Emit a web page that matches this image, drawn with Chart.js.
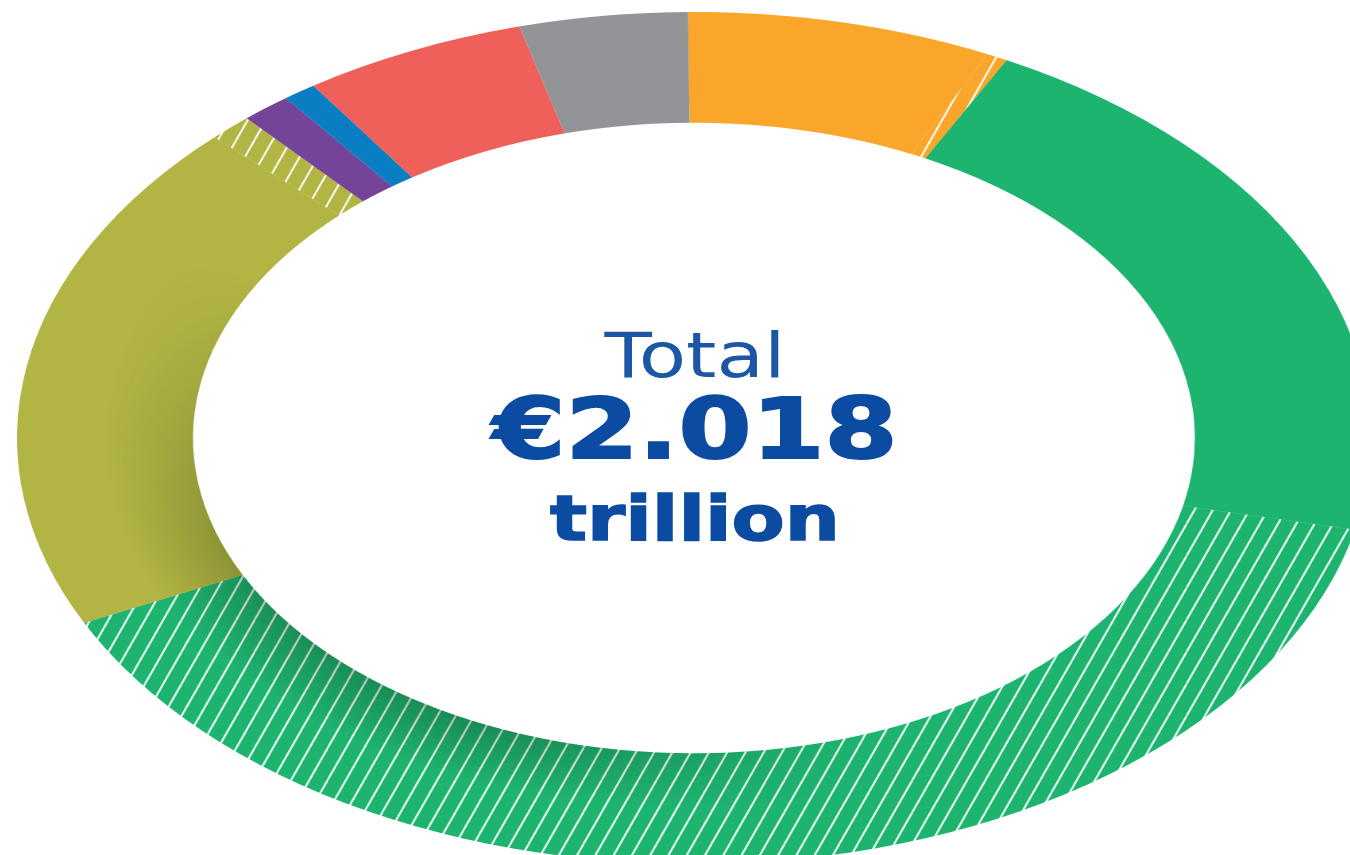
<!DOCTYPE html>
<html>
<head>
<meta charset="utf-8">
<title>Total €2.018 trillion</title>
<script src="https://cdn.jsdelivr.net/npm/chart.js@4.4.1/dist/chart.umd.min.js"></script>
<style>
    html, body {
        margin: 0;
        padding: 0;
        background: #fff;
        width: 1350px;
        height: 855px;
        overflow: hidden;
    }
    /* the ring is drawn as a circle and stretched into the wide ellipse */
    #ring {
        position: absolute;
        left: 17px;
        top: 12px;
        transform-origin: 0 0;
        transform: scaleX(1.589);
    }
    #ring canvas {
        display: block;
    }
    .centre-line {
        position: absolute;
        left: 0;
        width: 1390px;
        text-align: center;
        font-family: "DejaVu Sans", sans-serif;
        line-height: 1;
        white-space: nowrap;
        transform-origin: 695px 0;
        transform: scaleX(1.25);
    }
    #lineTotal { top: 325px; font-size: 62px; color: #1c56a5; }
    #lineAmount { top: 387px; font-size: 84px; font-weight: bold; color: #0c4ba2; -webkit-text-stroke: 2px #0c4ba2; }
    #lineUnit { top: 488px; font-size: 62px; font-weight: bold; color: #0c4ba2; -webkit-text-stroke: 1.5px #0c4ba2; }
</style>
</head>
<body>
<div id="ring"><canvas id="budgetChart" width="852" height="852"></canvas></div>
<div class="centre-line" id="lineTotal"></div>
<div class="centre-line" id="lineAmount"></div>
<div class="centre-line" id="lineUnit"></div>

<script>
// Chart data (EUR billion)
const categories = [
    'Single market, innovation and digital',
    'Single market, innovation and digital (NextGenerationEU)',
    'Cohesion, resilience and values',
    'Cohesion, resilience and values (NextGenerationEU)',
    'Natural resources and environment',
    'Natural resources and environment (NextGenerationEU)',
    'Migration and border management',
    'Security and defence',
    'Neighbourhood and the world',
    'European public administration'
];
const values = [147, 10, 420, 795, 396, 21, 24, 16, 108, 81];
const hatched = [false, true, false, true, false, true, false, false, false, false];
const colours = ['#f9a62a', '#f9a62a', '#1db470', '#1db470', '#b2b543', '#b2b543', '#74449a', '#0a7ec2', '#f0605a', '#929497'];
const centreLines = ['Total', '€2.018', 'trillion'];

// Fill the centre text
document.getElementById('lineTotal').textContent = centreLines[0];
document.getElementById('lineAmount').textContent = centreLines[1];
document.getElementById('lineUnit').textContent = centreLines[2];

// Diagonal white stripes on top of a base colour
function makeHatch(base) {
    const w = 23, h = 64;
    const tile = document.createElement('canvas');
    tile.width = w;
    tile.height = h;
    const t = tile.getContext('2d');
    t.fillStyle = base;
    t.fillRect(0, 0, w, h);
    t.strokeStyle = 'rgba(255, 255, 255, 0.9)';
    t.lineWidth = 2.8;
    for (let k = -1; k <= 1; k++) {
        t.beginPath();
        t.moveTo(k * w, h);
        t.lineTo(k * w + w, 0);
        t.stroke();
    }
    const pattern = t.createPattern(tile, 'repeat');
    pattern.setTransform(new DOMMatrix().scale(0.5));
    return pattern;
}

// Soft inner shadow on the lower-left of the ring
const innerShadow = {
    id: 'innerShadow',
    afterDatasetsDraw(chart) {
        const arc = chart.getDatasetMeta(0).data[0];
        if (!arc) return;
        const x = arc.x, y = arc.y;
        const rIn = arc.innerRadius, rOut = arc.outerRadius;
        const off = document.createElement('canvas');
        off.width = chart.width * 2;
        off.height = chart.height * 2;
        const o = off.getContext('2d');
        o.scale(2, 2);
        const rg = o.createRadialGradient(x, y, rIn, x, y, rIn + (rOut - rIn) * 0.5);
        rg.addColorStop(0, 'rgba(10, 30, 5, 0.27)');
        rg.addColorStop(1, 'rgba(10, 30, 5, 0)');
        o.fillStyle = rg;
        o.fillRect(0, 0, chart.width, chart.height);
        o.globalCompositeOperation = 'destination-in';
        const cg = o.createConicGradient(-Math.PI / 2, x, y);
        cg.addColorStop(0, 'rgba(0,0,0,0)');
        cg.addColorStop(160 / 360, 'rgba(0,0,0,0)');
        cg.addColorStop(205 / 360, 'rgba(0,0,0,1)');
        cg.addColorStop(250 / 360, 'rgba(0,0,0,0.8)');
        cg.addColorStop(300 / 360, 'rgba(0,0,0,0)');
        cg.addColorStop(1, 'rgba(0,0,0,0)');
        o.fillStyle = cg;
        o.fillRect(0, 0, chart.width, chart.height);
        const ctx = chart.ctx;
        ctx.save();
        ctx.globalCompositeOperation = 'source-atop';
        ctx.drawImage(off, 0, 0, chart.width, chart.height);
        ctx.restore();
    }
};

// Initialize the ring
function initBudgetChart() {
    const ctx = document.getElementById('budgetChart');
    if (!ctx) return;

    new Chart(ctx, {
        type: 'doughnut',
        data: {
            labels: categories,
            datasets: [{
                data: values,
                backgroundColor: colours.map((c, i) => hatched[i] ? makeHatch(c) : c),
                borderWidth: 0,
                hoverOffset: 0
            }]
        },
        options: {
            responsive: false,
            devicePixelRatio: 2,
            animation: false,
            events: [],
            cutout: '74%',
            rotation: -0.5,
            layout: { padding: 0 },
            plugins: {
                legend: { display: false },
                tooltip: { enabled: false }
            }
        },
        plugins: [innerShadow]
    });
}

initBudgetChart();
</script>
</body>
</html>
